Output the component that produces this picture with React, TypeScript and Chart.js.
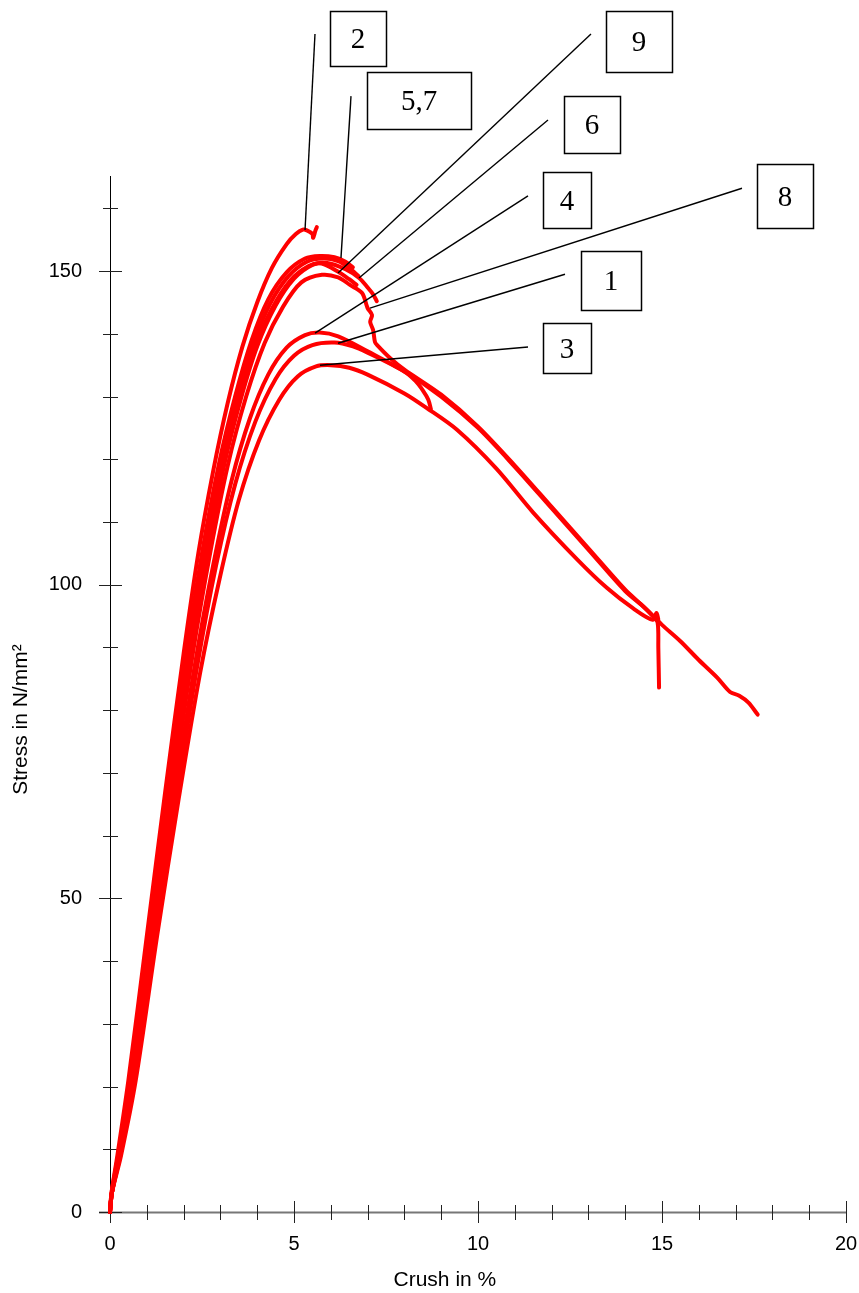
import { useEffect, useRef } from 'react';
import { Chart, registerables } from 'chart.js';

Chart.register(...registerables);

// ---- axis ticks ----
const xTickValues = [0, 5, 10, 15, 20];
const yTickValues = [0, 10, 20, 30, 40, 50, 60, 70, 80, 90, 100, 110, 120, 130, 140, 150, 160];
const xMinorTicks = [0, 1, 2, 3, 4, 5, 6, 7, 8, 9, 10, 11, 12, 13, 14, 15, 16, 17, 18, 19, 20];
const xTitle = 'Crush in %';
const yTitle = 'Stress in N/mm²';

// ---- series (crush %, stress N/mm²) ----
const crush1 = [0, 0.05, 0.28, 0.67, 1.23, 1.8, 2.37, 2.88, 3.4, 3.95, 4.5, 5.0, 5.5, 6.1, 6.6, 7.0, 8.0, 9.0, 10.0, 11.0, 12.0, 13.0, 14.0, 14.5, 14.75, 14.88, 14.9, 14.92];
const stress1 = [0, 3, 9, 21, 44, 66, 87, 103, 116, 126, 132.8, 136.5, 138.2, 138.6, 138, 137, 134, 130, 125, 118.8, 112.2, 105.6, 99, 96.5, 95, 94, 90, 83.6];

const crush2 = [0, 0.04, 0.2, 0.5, 1.0, 1.5, 2.0, 2.4, 2.8, 3.2, 3.6, 4.0, 4.4, 4.8, 5.05, 5.24, 5.35, 5.5, 5.52, 5.58, 5.62];
const stress2 = [0, 3, 9, 21, 44, 67, 89, 105, 118, 129, 138, 145, 150.5, 154.3, 155.9, 156.6, 156.5, 155.9, 155.3, 156.4, 157.0];

const crush3 = [0, 0.05, 0.3, 0.7, 1.28, 1.87, 2.45, 2.98, 3.5, 4.05, 4.6, 5.1, 5.6, 6.0, 6.5, 7.0, 8.0, 8.6, 9.43, 10.5, 11.5, 12.7, 13.5, 14.2, 14.75, 14.85, 14.9];
const stress3 = [0, 3, 9, 21, 44, 66, 86, 101, 113.5, 123, 129.5, 133.2, 134.8, 135, 134.6, 133.5, 130.5, 128.2, 124.7, 118.5, 111.5, 104, 99.5, 96.3, 94.4, 95.5, 94.5];

const crush4 = [0, 0.05, 0.27, 0.65, 1.2, 1.75, 2.3, 2.8, 3.3, 3.8, 4.3, 4.8, 5.3, 5.7, 6.2, 7.0, 8.0, 8.3, 8.5, 8.65, 8.72];
const stress4 = [0, 3, 9, 21, 44, 66, 87, 103, 116.5, 126.5, 133.5, 137.8, 139.8, 140.2, 139.6, 137.2, 134, 132.5, 131, 129.5, 128];

const crush5 = [0, 0.04, 0.22, 0.55, 1.05, 1.57, 2.08, 2.5, 2.95, 3.4, 3.85, 4.3, 4.8, 5.3, 5.7, 6.1, 6.4, 6.6];
const stress5 = [0, 3, 9, 21, 44, 67, 89, 105, 119, 130, 139, 145.5, 149.8, 152, 152.4, 152.2, 151.5, 150.6];

const crush6 = [0, 0.05, 0.25, 0.6, 1.12, 1.66, 2.2, 2.65, 3.1, 3.55, 4.0, 4.5, 5.0, 5.5, 5.9, 6.4, 6.77, 7.0, 7.15, 7.25];
const stress6 = [0, 3, 9, 21, 44, 67, 89, 105, 119, 129.5, 138, 144.5, 148.8, 151, 151.3, 150.3, 148.9, 147.4, 146.3, 145.2];

const crush7 = [0, 0.05, 0.23, 0.57, 1.08, 1.6, 2.12, 2.55, 3.0, 3.45, 3.9, 4.35, 4.85, 5.35, 5.8, 6.2, 6.5, 6.75];
const stress7 = [0, 3, 9, 21, 44, 67, 89, 105, 119, 130, 138.5, 144.8, 149.2, 151.5, 152, 151.6, 150.5, 149.2];

const crush8 = [0, 0.05, 0.26, 0.62, 1.15, 1.7, 2.25, 2.72, 3.2, 3.7, 4.2, 4.7, 5.2, 5.76, 6.2, 6.52, 6.85, 7.0, 7.12, 7.07, 7.15, 7.2, 7.26, 7.6, 8.0, 9.0, 10.0, 11.0, 12.0, 13.0, 14.0, 14.5, 14.8, 15.0, 15.5, 16.0, 16.5, 16.85, 17.1, 17.35, 17.6];
const stress8 = [0, 3, 9, 21, 44, 67, 89, 105, 119, 130, 138.5, 144.3, 148.2, 149.4, 149, 147.8, 146.5, 144.1, 143, 141.9, 140.6, 138.7, 138.2, 136.2, 134.3, 130.3, 125.2, 119, 112.4, 105.8, 99.2, 96.5, 94.8, 93.6, 91, 88, 85.2, 82.9, 82.3, 81.2, 79.3];

const crush9 = [0, 0.05, 0.24, 0.58, 1.1, 1.63, 2.15, 2.6, 3.05, 3.5, 3.95, 4.4, 4.9, 5.4, 5.75, 6.2, 6.5, 6.7];
const stress9 = [0, 3, 9, 21, 44, 67, 89, 105, 119, 129.5, 138, 144, 148.5, 150.8, 151.2, 149.9, 148.7, 147.8];

const seriesNames = ['1', '2', '3', '4', '5', '6', '7', '8', '9'];
const seriesCrush = [crush1, crush2, crush3, crush4, crush5, crush6, crush7, crush8, crush9];
const seriesStress = [stress1, stress2, stress3, stress4, stress5, stress6, stress7, stress8, stress9];

// ---- call-out boxes (data units): box [x1, yTop, x2, yBottom], leader from -> to ----
const callouts = [
  { text: '2', box: [5.98, 191.5, 7.5, 182.7], from: [5.57, 187.8], to: [5.3, 156.55] },
  { text: '5,7', box: [6.984, 181.7, 9.81, 172.6], from: [6.549, 177.9], to: [6.277, 152.1] },
  { text: '9', box: [13.478, 191.5, 15.272, 181.7], from: [13.07, 187.8], to: [6.196, 149.7] },
  { text: '6', box: [12.337, 177.9, 13.859, 168.8], from: [11.902, 174.1], to: [6.766, 148.9] },
  { text: '4', box: [11.766, 165.8, 13.071, 156.9], from: [11.359, 162.0], to: [5.571, 140.1] },
  { text: '8', box: [17.582, 167.1, 19.103, 156.9], from: [17.174, 163.2], to: [7.065, 144.1] },
  { text: '1', box: [12.799, 153.2, 14.429, 143.8], from: [12.364, 149.5], to: [6.196, 138.5] },
  { text: '3', box: [11.766, 141.7, 13.071, 133.8], from: [11.359, 137.9], to: [5.707, 135.0] },
];

const SANS = '"Liberation Sans", Arial, sans-serif';
const SERIF = '"Liberation Serif", "Times New Roman", serif';

const framePlugin = {
  id: 'frame',
  beforeDatasetsDraw(chart: any) {
    const { ctx, scales } = chart;
    const xs = scales.x;
    const ys = scales.y;
    const x0 = Math.round(xs.getPixelForValue(0));
    const y0 = Math.round(ys.getPixelForValue(0));
    ctx.save();
    // x axis line
    ctx.strokeStyle = '#777';
    ctx.lineWidth = 2;
    ctx.beginPath();
    ctx.moveTo(x0 - 11, y0 + 0.5);
    ctx.lineTo(Math.round(xs.getPixelForValue(20)) + 0.5, y0 + 0.5);
    ctx.stroke();
    // y axis line
    ctx.strokeStyle = '#000';
    ctx.lineWidth = 1;
    ctx.beginPath();
    ctx.moveTo(x0 + 0.5, ys.top - 1);
    ctx.lineTo(x0 + 0.5, y0);
    ctx.stroke();
    // y ticks
    ctx.strokeStyle = '#222';
    yTickValues.forEach((v) => {
      const py = Math.round(ys.getPixelForValue(v)) + 0.5;
      const major = v % 50 === 0;
      ctx.beginPath();
      ctx.moveTo(x0 - (major ? 11 : 7), py);
      ctx.lineTo(x0 + (major ? 12 : 8), py);
      ctx.stroke();
    });
    // x ticks
    xMinorTicks.forEach((v) => {
      const px = Math.round(xs.getPixelForValue(v)) + 0.5;
      const major = v % 5 === 0;
      ctx.beginPath();
      ctx.moveTo(px, y0 + (v === 0 ? 0 : major ? -11 : -7));
      ctx.lineTo(px, y0 + (major ? 11 : 8));
      ctx.stroke();
    });
    ctx.restore();
  },
  afterDraw(chart: any) {
    const { ctx, scales } = chart;
    const xs = scales.x;
    const ys = scales.y;
    ctx.save();
    // axis titles
    ctx.fillStyle = '#000';
    ctx.font = `21px ${SANS}`;
    ctx.textAlign = 'center';
    ctx.textBaseline = 'middle';
    ctx.fillText(xTitle, xs.getPixelForValue(9.1), ys.bottom + 68);
    ctx.save();
    ctx.translate(21, ys.getPixelForValue(78.5));
    ctx.rotate(-Math.PI / 2);
    ctx.fillText(yTitle, 0, 0);
    ctx.restore();
    // call-outs
    callouts.forEach((c) => {
      const fx = xs.getPixelForValue(c.from[0]);
      const fy = ys.getPixelForValue(c.from[1]);
      const tx = xs.getPixelForValue(c.to[0]);
      const ty = ys.getPixelForValue(c.to[1]);
      ctx.strokeStyle = '#000';
      ctx.lineWidth = 1.4;
      ctx.beginPath();
      ctx.moveTo(fx, fy);
      ctx.lineTo(tx, ty);
      ctx.stroke();
      const bx1 = Math.round(xs.getPixelForValue(c.box[0]));
      const by1 = Math.round(ys.getPixelForValue(c.box[1]));
      const bx2 = Math.round(xs.getPixelForValue(c.box[2]));
      const by2 = Math.round(ys.getPixelForValue(c.box[3]));
      ctx.fillStyle = '#fff';
      ctx.fillRect(bx1, by1, bx2 - bx1, by2 - by1);
      ctx.lineWidth = 1.5;
      ctx.strokeRect(bx1 + 0.5, by1 + 0.5, bx2 - bx1, by2 - by1);
      ctx.fillStyle = '#000';
      ctx.font = `29px ${SERIF}`;
      ctx.textAlign = 'center';
      ctx.textBaseline = 'middle';
      ctx.fillText(c.text, (bx1 + bx2) / 2, (by1 + by2) / 2 + 2);
    });
    ctx.restore();
  },
};

export default function App() {
  const canvasRef = useRef<HTMLCanvasElement | null>(null);

  useEffect(() => {
    const canvas = canvasRef.current;
    if (!canvas) return;
    const datasets = seriesNames.map((name, i) => ({
      label: name,
      data: seriesCrush[i].map((x, j) => ({ x, y: seriesStress[i][j] })),
      borderColor: '#ff0000',
      backgroundColor: '#ff0000',
      borderWidth: 4,
      pointRadius: 0,
      tension: 0.3,
      borderCapStyle: 'round' as const,
      borderJoinStyle: 'round' as const,
      clip: false as any,
    }));
    const chart = new Chart(canvas, {
      type: 'line',
      data: { datasets },
      options: {
        animation: false,
        responsive: false,
        maintainAspectRatio: false,
        parsing: false as any,
        normalized: true,
        layout: { padding: { top: 177, right: 13, left: 0, bottom: 0 } },
        plugins: {
          legend: { display: false },
          tooltip: { enabled: false },
        },
        scales: {
          x: {
            type: 'linear',
            min: 0,
            max: 20,
            grid: { display: false, drawTicks: false },
            border: { display: false },
            afterBuildTicks: (scale: any) => {
              scale.ticks = xTickValues.map((v) => ({ value: v }));
            },
            afterFit: (scale: any) => {
              scale.height = 81;
              scale.paddingLeft = 0;
              scale.paddingRight = 0;
            },
            ticks: {
              padding: 20,
              maxRotation: 0,
              autoSkip: false,
              color: '#000',
              font: { family: SANS, size: 20 },
              callback: (v: any) => String(v),
            },
          },
          y: {
            type: 'linear',
            min: 0,
            max: 165,
            grid: { display: false, drawTicks: false },
            border: { display: false },
            afterBuildTicks: (scale: any) => {
              scale.ticks = yTickValues.map((v) => ({ value: v }));
            },
            afterFit: (scale: any) => {
              scale.width = 110;
              scale.paddingTop = 0;
              scale.paddingBottom = 0;
            },
            ticks: {
              padding: 28,
              autoSkip: false,
              color: '#000',
              font: { family: SANS, size: 20 },
              callback: (v: any) => (Number(v) % 50 === 0 ? String(v) : ''),
            },
          },
        },
      },
      plugins: [framePlugin],
    });
    return () => chart.destroy();
  }, []);

  return (
    <div style={{ position: 'absolute', left: 0, top: 0, width: 859, height: 1293, background: '#fff' }}>
      <canvas ref={canvasRef} width={859} height={1293} style={{ width: 859, height: 1293, display: 'block' }} />
    </div>
  );
}
